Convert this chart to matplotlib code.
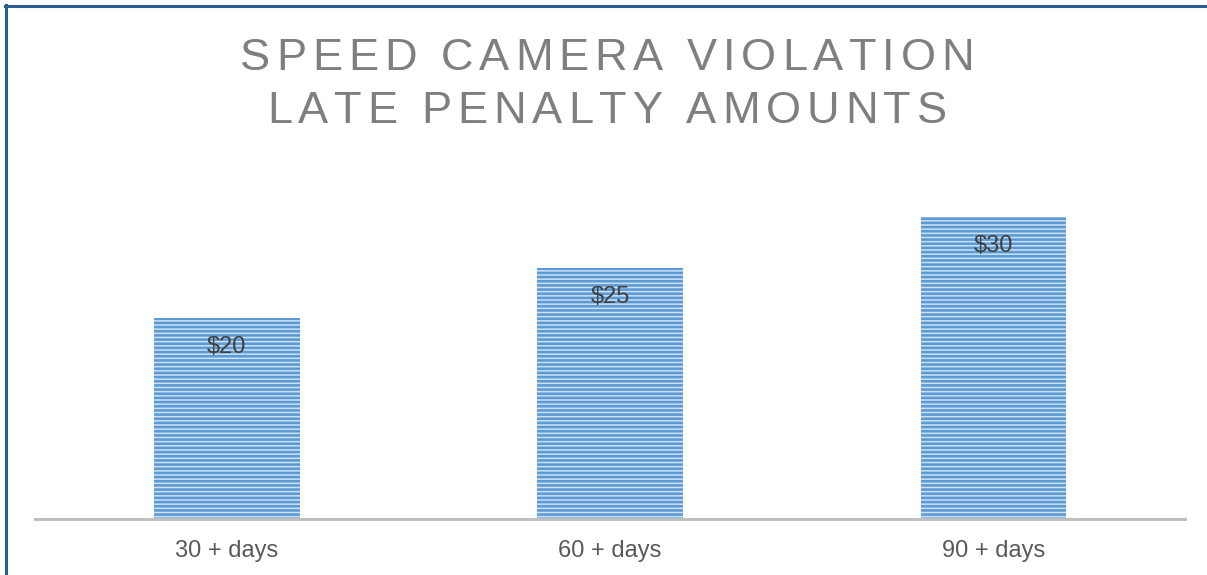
import matplotlib
matplotlib.use("Agg")
import matplotlib.pyplot as plt
import matplotlib.transforms as mtransforms
from matplotlib.lines import Line2D

# chart data
categories = ["30 + days", "60 + days", "90 + days"]
penalties = [20, 25, 30]
bar_labels = ["$20", "$25", "$30"]
title_lines = ["SPEED CAMERA VIOLATION", "LATE PENALTY AMOUNTS"]

W, H = 1207, 575
plt.rcParams["font.family"] = ["Liberation Sans", "DejaVu Sans"]
plt.rcParams["hatch.linewidth"] = 1.9

fig = plt.figure(figsize=(W / 100, H / 100), dpi=100)
ax = fig.add_axes([35 / W, 56 / H, 1150 / W, 352 / H])

ax.bar(range(len(categories)), penalties, width=0.38,
       color="#CFE0F2", edgecolor="#5B9BD5", linewidth=0, hatch="----")

for i, (v, lab) in enumerate(zip(penalties, bar_labels)):
    ax.annotate(lab.replace("$", r"\$"), (i, v), xytext=(0, -21), textcoords="offset points",
                ha="center", va="center", fontsize=17, color="#404040")

ax.set_xlim(-0.5, 2.5)
ax.set_ylim(0, 35)
ax.set_xticks(range(len(categories)))
ax.set_xticklabels(categories, fontsize=17, color="#595959")
ax.tick_params(axis="x", length=0, pad=15)
ax.set_yticks([])
for s in ["top", "left", "right"]:
    ax.spines[s].set_visible(False)
ax.spines["bottom"].set_color("#BFBFBF")
ax.spines["bottom"].set_linewidth(2.2)

# title with letter spacing, placed in pixels
px = mtransforms.IdentityTransform()
renderer = fig.canvas.get_renderer()

def text_w(s, size):
    t = fig.text(0, 0, s, fontsize=size, transform=px)
    w = t.get_window_extent(renderer).width
    t.remove()
    return w

def spaced_line(s, cx, base_y, size, gap):
    hh = text_w("HH", size)
    adv = [text_w("H" + c + "H", size) - hh for c in s]
    total = sum(adv) + gap * (len(s) - 1)
    x = cx - total / 2
    for c, a in zip(s, adv):
        if c != " ":
            fig.text(x, base_y, c, fontsize=size, color="#7F7F7F",
                     ha="left", va="baseline", transform=px)
        x += a + gap

spaced_line(title_lines[0], 607, H - 70, 32.5, 5.8)
spaced_line(title_lines[1], 607, H - 123, 32.5, 5.8)

# frame lines at top and left
fig.add_artist(Line2D([6 / W, 6 / W], [0, 1 - 5 / H], transform=fig.transFigure,
                      color="#2B5C8E", linewidth=2.2))
fig.add_artist(Line2D([5 / W, 1], [1 - 5.5 / H, 1 - 5.5 / H], transform=fig.transFigure,
                      color="#2B5C8E", linewidth=2.2))

fig.savefig("out.png", dpi=100)
